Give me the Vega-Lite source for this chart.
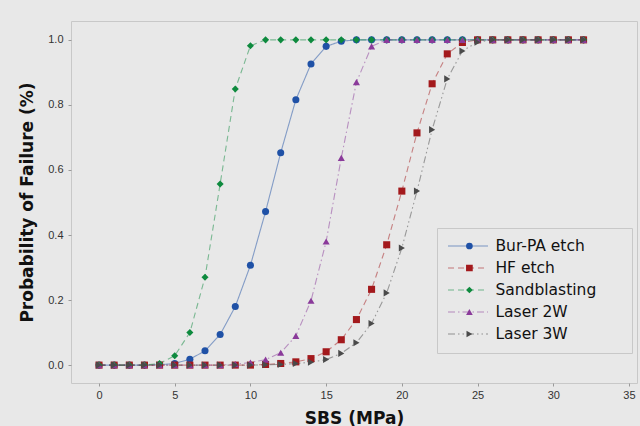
{
"$schema": "https://vega.github.io/schema/vega-lite/v6.json",
"width": 566, "height": 362,
"autosize": {"type": "none"},
"padding": {"left": 71, "top": 21, "right": 3, "bottom": 43},
"background": "#e8e8e8",
"config": {
  "view": {"stroke": "#c8c8c8", "fill": "#e8e8e8"},
  "axis": {"grid": false, "domain": false, "tickColor": "#9a9a9a", "tickSize": 3, "labelFont": "Liberation Sans", "labelFontSize": 11, "labelColor": "#333333", "labelPadding": 3, "titleFont": "DejaVu Sans", "titleFontSize": 17, "titleFontWeight": "bold", "titleColor": "#111111"}
},
"data": {"values": [
{"s":"Bur-PA etch","x":0,"y":0},{"s":"Bur-PA etch","x":1,"y":0},{"s":"Bur-PA etch","x":2,"y":0},{"s":"Bur-PA etch","x":3,"y":0},{"s":"Bur-PA etch","x":4,"y":0.001},{"s":"Bur-PA etch","x":5,"y":0.005},{"s":"Bur-PA etch","x":6,"y":0.018},{"s":"Bur-PA etch","x":7,"y":0.044},{"s":"Bur-PA etch","x":8,"y":0.094},{"s":"Bur-PA etch","x":9,"y":0.18},{"s":"Bur-PA etch","x":10,"y":0.307},{"s":"Bur-PA etch","x":11,"y":0.472},{"s":"Bur-PA etch","x":12,"y":0.653},{"s":"Bur-PA etch","x":13,"y":0.816},{"s":"Bur-PA etch","x":14,"y":0.926},{"s":"Bur-PA etch","x":15,"y":0.98},{"s":"Bur-PA etch","x":16,"y":0.996},{"s":"Bur-PA etch","x":17,"y":1},{"s":"Bur-PA etch","x":18,"y":1},{"s":"Bur-PA etch","x":19,"y":1},{"s":"Bur-PA etch","x":20,"y":1},{"s":"Bur-PA etch","x":21,"y":1},{"s":"Bur-PA etch","x":22,"y":1},{"s":"Bur-PA etch","x":23,"y":1},{"s":"Bur-PA etch","x":24,"y":1},{"s":"Bur-PA etch","x":25,"y":1},{"s":"Bur-PA etch","x":26,"y":1},{"s":"Bur-PA etch","x":27,"y":1},{"s":"Bur-PA etch","x":28,"y":1},{"s":"Bur-PA etch","x":29,"y":1},{"s":"Bur-PA etch","x":30,"y":1},{"s":"Bur-PA etch","x":31,"y":1},{"s":"Bur-PA etch","x":32,"y":1},
{"s":"HF etch","x":0,"y":0},{"s":"HF etch","x":1,"y":0},{"s":"HF etch","x":2,"y":0},{"s":"HF etch","x":3,"y":0},{"s":"HF etch","x":4,"y":0},{"s":"HF etch","x":5,"y":0},{"s":"HF etch","x":6,"y":0},{"s":"HF etch","x":7,"y":0},{"s":"HF etch","x":8,"y":0},{"s":"HF etch","x":9,"y":0},{"s":"HF etch","x":10,"y":0},{"s":"HF etch","x":11,"y":0.002},{"s":"HF etch","x":12,"y":0.005},{"s":"HF etch","x":13,"y":0.01},{"s":"HF etch","x":14,"y":0.02},{"s":"HF etch","x":15,"y":0.041},{"s":"HF etch","x":16,"y":0.078},{"s":"HF etch","x":17,"y":0.14},{"s":"HF etch","x":18,"y":0.233},{"s":"HF etch","x":19,"y":0.37},{"s":"HF etch","x":20,"y":0.535},{"s":"HF etch","x":21,"y":0.714},{"s":"HF etch","x":22,"y":0.865},{"s":"HF etch","x":23,"y":0.957},{"s":"HF etch","x":24,"y":0.992},{"s":"HF etch","x":25,"y":1},{"s":"HF etch","x":26,"y":1},{"s":"HF etch","x":27,"y":1},{"s":"HF etch","x":28,"y":1},{"s":"HF etch","x":29,"y":1},{"s":"HF etch","x":30,"y":1},{"s":"HF etch","x":31,"y":1},{"s":"HF etch","x":32,"y":1},
{"s":"Sandblasting","x":0,"y":0},{"s":"Sandblasting","x":1,"y":0},{"s":"Sandblasting","x":2,"y":0},{"s":"Sandblasting","x":3,"y":0},{"s":"Sandblasting","x":4,"y":0.005},{"s":"Sandblasting","x":5,"y":0.029},{"s":"Sandblasting","x":6,"y":0.1},{"s":"Sandblasting","x":7,"y":0.27},{"s":"Sandblasting","x":8,"y":0.557},{"s":"Sandblasting","x":9,"y":0.849},{"s":"Sandblasting","x":10,"y":0.982},{"s":"Sandblasting","x":11,"y":1},{"s":"Sandblasting","x":12,"y":1},{"s":"Sandblasting","x":13,"y":1},{"s":"Sandblasting","x":14,"y":1},{"s":"Sandblasting","x":15,"y":1},{"s":"Sandblasting","x":16,"y":1},{"s":"Sandblasting","x":17,"y":1},{"s":"Sandblasting","x":18,"y":1},{"s":"Sandblasting","x":19,"y":1},{"s":"Sandblasting","x":20,"y":1},{"s":"Sandblasting","x":21,"y":1},{"s":"Sandblasting","x":22,"y":1},{"s":"Sandblasting","x":23,"y":1},{"s":"Sandblasting","x":24,"y":1},{"s":"Sandblasting","x":25,"y":1},{"s":"Sandblasting","x":26,"y":1},{"s":"Sandblasting","x":27,"y":1},{"s":"Sandblasting","x":28,"y":1},{"s":"Sandblasting","x":29,"y":1},{"s":"Sandblasting","x":30,"y":1},{"s":"Sandblasting","x":31,"y":1},{"s":"Sandblasting","x":32,"y":1},
{"s":"Laser 2W","x":0,"y":0},{"s":"Laser 2W","x":1,"y":0},{"s":"Laser 2W","x":2,"y":0},{"s":"Laser 2W","x":3,"y":0},{"s":"Laser 2W","x":4,"y":0},{"s":"Laser 2W","x":5,"y":0},{"s":"Laser 2W","x":6,"y":0},{"s":"Laser 2W","x":7,"y":0},{"s":"Laser 2W","x":8,"y":0},{"s":"Laser 2W","x":9,"y":0.003},{"s":"Laser 2W","x":10,"y":0.008},{"s":"Laser 2W","x":11,"y":0.017},{"s":"Laser 2W","x":12,"y":0.038},{"s":"Laser 2W","x":13,"y":0.09},{"s":"Laser 2W","x":14,"y":0.198},{"s":"Laser 2W","x":15,"y":0.38},{"s":"Laser 2W","x":16,"y":0.637},{"s":"Laser 2W","x":17,"y":0.87},{"s":"Laser 2W","x":18,"y":0.98},{"s":"Laser 2W","x":19,"y":1},{"s":"Laser 2W","x":20,"y":1},{"s":"Laser 2W","x":21,"y":1},{"s":"Laser 2W","x":22,"y":1},{"s":"Laser 2W","x":23,"y":1},{"s":"Laser 2W","x":24,"y":1},{"s":"Laser 2W","x":25,"y":1},{"s":"Laser 2W","x":26,"y":1},{"s":"Laser 2W","x":27,"y":1},{"s":"Laser 2W","x":28,"y":1},{"s":"Laser 2W","x":29,"y":1},{"s":"Laser 2W","x":30,"y":1},{"s":"Laser 2W","x":31,"y":1},{"s":"Laser 2W","x":32,"y":1},
{"s":"Laser 3W","x":0,"y":0},{"s":"Laser 3W","x":1,"y":0},{"s":"Laser 3W","x":2,"y":0},{"s":"Laser 3W","x":3,"y":0},{"s":"Laser 3W","x":4,"y":0},{"s":"Laser 3W","x":5,"y":0},{"s":"Laser 3W","x":6,"y":0},{"s":"Laser 3W","x":7,"y":0},{"s":"Laser 3W","x":8,"y":0},{"s":"Laser 3W","x":9,"y":0},{"s":"Laser 3W","x":10,"y":0},{"s":"Laser 3W","x":11,"y":0.001},{"s":"Laser 3W","x":12,"y":0.002},{"s":"Laser 3W","x":13,"y":0.005},{"s":"Laser 3W","x":14,"y":0.009},{"s":"Laser 3W","x":15,"y":0.017},{"s":"Laser 3W","x":16,"y":0.036},{"s":"Laser 3W","x":17,"y":0.069},{"s":"Laser 3W","x":18,"y":0.128},{"s":"Laser 3W","x":19,"y":0.222},{"s":"Laser 3W","x":20,"y":0.36},{"s":"Laser 3W","x":21,"y":0.535},{"s":"Laser 3W","x":22,"y":0.724},{"s":"Laser 3W","x":23,"y":0.88},{"s":"Laser 3W","x":24,"y":0.966},{"s":"Laser 3W","x":25,"y":0.993},{"s":"Laser 3W","x":26,"y":1},{"s":"Laser 3W","x":27,"y":1},{"s":"Laser 3W","x":28,"y":1},{"s":"Laser 3W","x":29,"y":1},{"s":"Laser 3W","x":30,"y":1},{"s":"Laser 3W","x":31,"y":1},{"s":"Laser 3W","x":32,"y":1}
]},
"encoding": {
  "x": {"field": "x", "type": "quantitative", "scale": {"domain": [-1.85, 35.53], "nice": false, "zero": false}, "axis": {"values": [0,5,10,15,20,25,30,35], "title": "SBS (MPa)", "titlePadding": 10}},
  "y": {"field": "y", "type": "quantitative", "scale": {"domain": [-0.055, 1.058], "nice": false, "zero": false}, "axis": {"values": [0,0.2,0.4,0.6,0.8,1], "format": ".1f", "title": "Probability of Failure (%)", "labelPadding": 5, "titlePadding": 11}}
},
"layer": [
  {"mark": {"type": "line", "strokeWidth": 1.1, "opacity": 0.5},
   "encoding": {
     "color": {"field": "s", "type": "nominal", "scale": {"domain": ["Bur-PA etch","HF etch","Sandblasting","Laser 2W","Laser 3W"], "range": ["#1f51a6","#a3191c","#0e8a3e","#8a3a9a","#4a4a4a"]},
       "legend": {"title": null, "orient": "none", "legendX": 366, "legendY": 207, "padding": 10, "clipHeight": 16, "rowPadding": 5, "symbolType": "stroke", "symbolSize": 1600, "symbolStrokeWidth": 1.1, "symbolOpacity": 0.55, "labelOffset": 133, "labelFont": "DejaVu Sans", "labelFontSize": 15.5, "labelExpr": "''", "strokeColor": "#c8c8c8"}},
     "strokeDash": {"field": "s", "type": "nominal", "scale": {"domain": ["Bur-PA etch","HF etch","Sandblasting","Laser 2W","Laser 3W"], "range": [[1,0],[6,4],[6,4],[7,3,1.5,3],[7,3,1.5,3,1.5,3]]},
       "legend": {"title": null, "orient": "none", "legendX": 366, "legendY": 207, "padding": 10, "clipHeight": 16, "rowPadding": 5, "symbolType": "stroke", "symbolSize": 1600, "symbolStrokeWidth": 1.1, "symbolOpacity": 0.55, "labelOffset": 133, "labelFont": "DejaVu Sans", "labelFontSize": 15.5, "labelExpr": "''", "strokeColor": "#c8c8c8"}}
   }},
  {"mark": {"type": "point", "filled": true, "size": 50, "opacity": 1},
   "encoding": {
     "color": {"field": "s", "type": "nominal", "scale": {"domain": ["Bur-PA etch","HF etch","Sandblasting","Laser 2W","Laser 3W"], "range": ["#1f51a6","#a3191c","#0e8a3e","#8a3a9a","#4a4a4a"]},
       "legend": {"title": null, "orient": "none", "legendX": 366, "legendY": 207, "padding": 10, "clipHeight": 16, "rowPadding": 5, "symbolSize": 45, "symbolOffset": 14.65, "labelOffset": 18.3, "symbolOpacity": 1, "labelFont": "DejaVu Sans", "labelFontSize": 15.5, "labelColor": "#111111"}},
     "shape": {"field": "s", "type": "nominal", "scale": {"domain": ["Bur-PA etch","HF etch","Sandblasting","Laser 2W","Laser 3W"], "range": ["circle","square","diamond","triangle-up","triangle-right"]},
       "legend": {"title": null, "orient": "none", "legendX": 366, "legendY": 207, "padding": 10, "clipHeight": 16, "rowPadding": 5, "symbolSize": 45, "symbolOffset": 14.65, "labelOffset": 18.3, "symbolOpacity": 1, "labelFont": "DejaVu Sans", "labelFontSize": 15.5, "labelColor": "#111111"}}
   }}
],
"resolve": {"legend": {"color": "independent", "shape": "independent", "strokeDash": "independent"}}
}
